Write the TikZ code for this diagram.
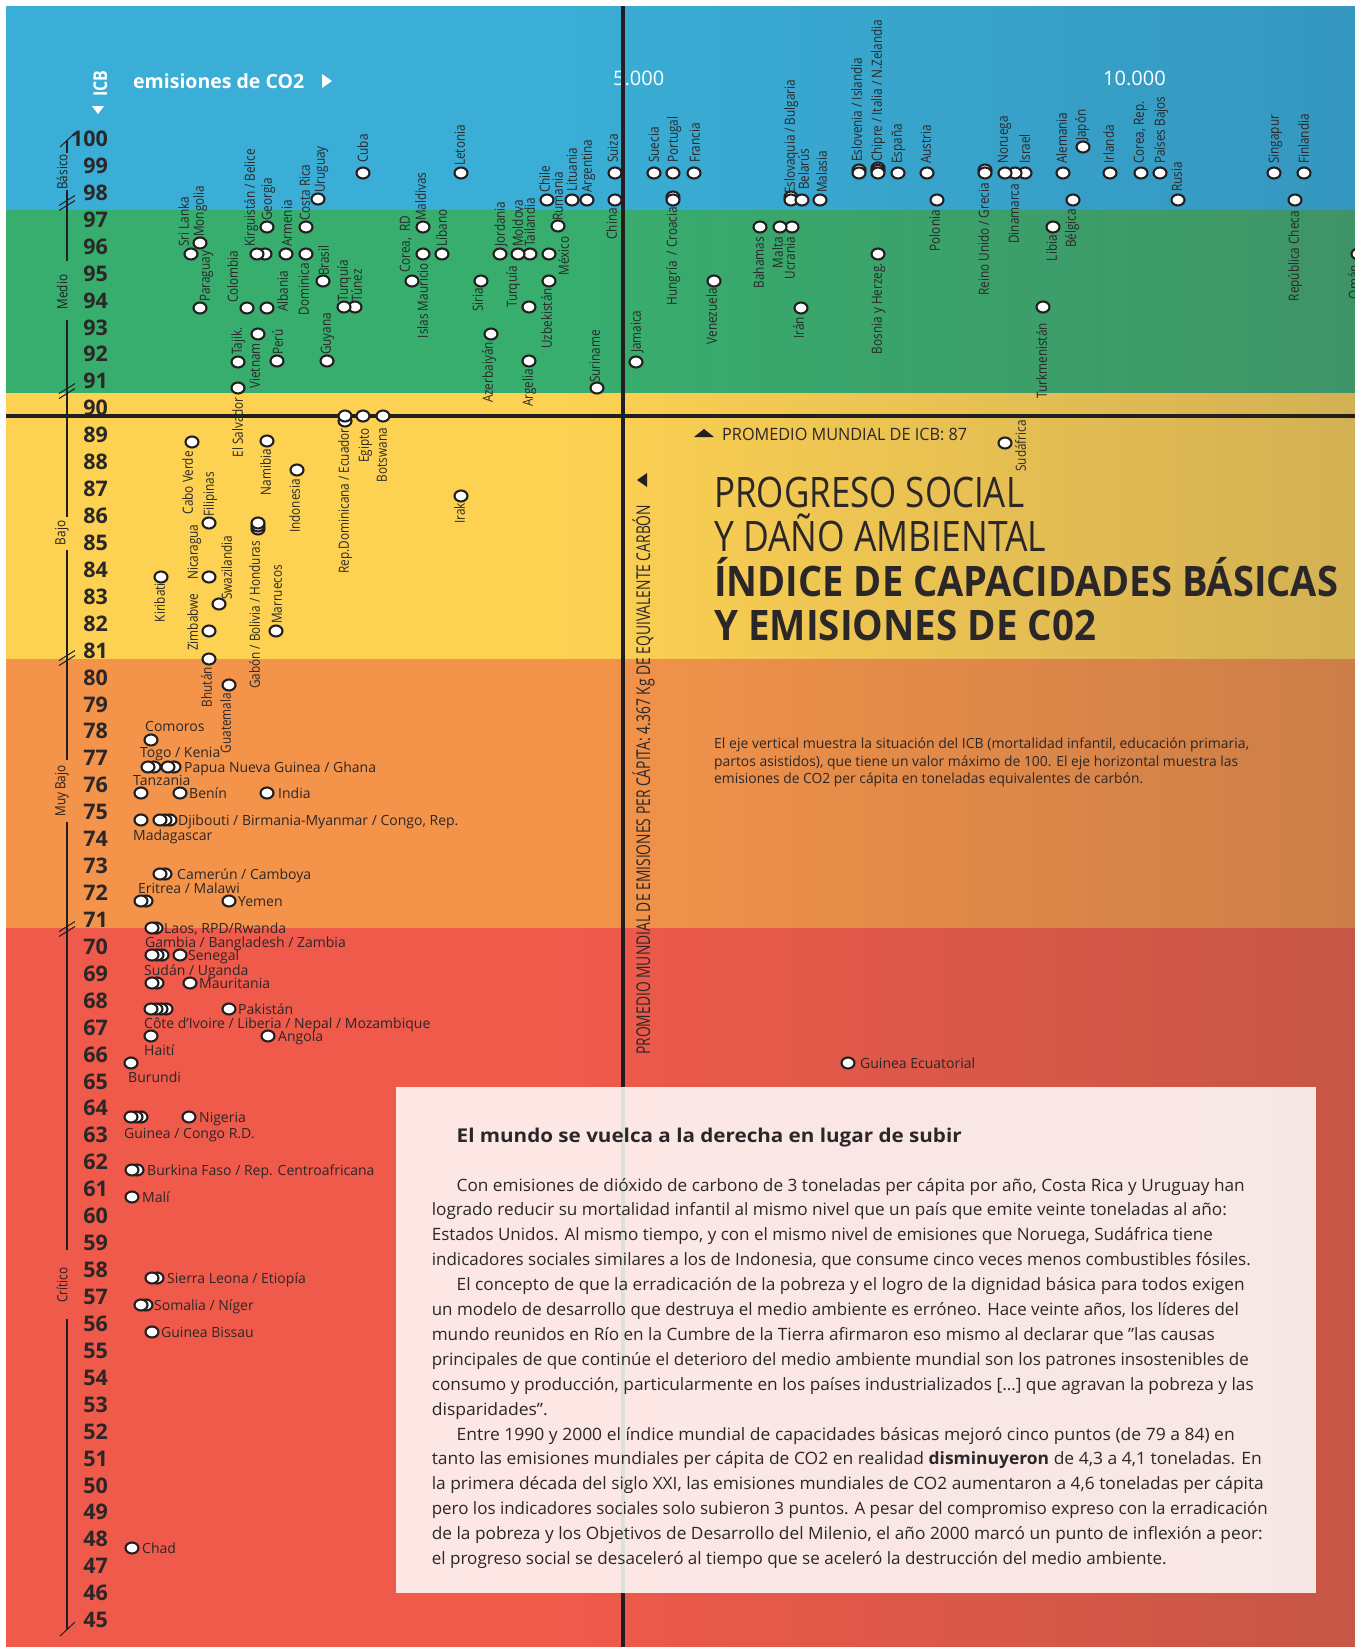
\documentclass[tikz,border=0pt]{standalone}
\usepackage{tikz}
\usepackage{graphicx}
\usepackage{fontspec}
\setmainfont{Open Sans}
\newfontfamily\fa[FakeStretch=0.84]{Open Sans}
\newfontfamily\fb[FakeStretch=0.9]{Open Sans}
\definecolor{ink}{HTML}{231F20}
\definecolor{txt}{HTML}{2B2728}
\definecolor{blueL}{HTML}{3AAED6}\definecolor{blueR}{HTML}{3597BF}
\definecolor{greenL}{HTML}{37AE6E}\definecolor{greenR}{HTML}{3F9467}
\definecolor{yelL}{HTML}{FDD152}\definecolor{yelR}{HTML}{D3B053}
\definecolor{orL}{HTML}{F4944A}\definecolor{orR}{HTML}{CC7E48}
\definecolor{redL}{HTML}{EF5A4B}\definecolor{redR}{HTML}{C65646}
\newsavebox\fitbox
\newdimen\fitlen
\newcommand\fitw[2]{\sbox\fitbox{#2}\fitlen=\wd\fitbox\pgfmathsetmacro\fitfac{#1/\fitlen}\scalebox{\fitfac}[1]{\usebox\fitbox}}
\newcounter{lab}
\newcommand\pnt[2]{\draw[dotst] (#1,#2) ellipse [x radius=6.5pt, y radius=5.5pt];}
\newcommand\lu[3]{\stepcounter{lab}\node[rlab,anchor=west] (L\arabic{lab}) at (#1,#2) {#3};}
\newcommand\ld[3]{\stepcounter{lab}\node[rlab,anchor=east] (L\arabic{lab}) at (#1,#2) {#3};}
\newcommand\lc[3]{\stepcounter{lab}\node[rlab,anchor=center] (L\arabic{lab}) at (#1,#2) {#3};}
\newcommand\lh[3]{\stepcounter{lab}\node[hlab] (L\arabic{lab}) at (#1,#2) {#3};}
\newcommand\bl[4]{\stepcounter{lab}\node[body] (L\arabic{lab}) at (#1,#2) {\fitw{#3}{#4}};}
\newcommand\band[4]{\fill[#1] (6,#3) rectangle (560,#4); \shade[left color=#1,right color=#2] (559.5,#3) rectangle (1355,#4);}
\begin{document}
\begin{tikzpicture}[x=1pt,y=-1pt,
  dotst/.style={draw=ink, fill=white, line width=2.1pt},
  rlab/.style={rotate=90, inner sep=0pt, font=\fa\fontsize{14}{16}\selectfont, text=txt, text height=10.5pt, text depth=3pt},
  hlab/.style={inner sep=0pt, font=\fontsize{14}{16}\selectfont, text=txt, anchor=base west},
  num/.style={inner sep=0pt, font=\bfseries\fontsize{21.5}{24}\selectfont, text=txt, anchor=base east},
  cat/.style={rotate=90, inner sep=0pt, font=\fa\fontsize{14}{16}\selectfont, text=ink},
  body/.style={inner sep=0pt, anchor=base west, font=\fontsize{17}{20}\selectfont, text=txt},
  blk/.style={draw=ink, line width=4pt},
]
\useasboundingbox (0,0) rectangle (1355,1647);
\clip (0,0) rectangle (1355,1647);
% bands
\band{blueL}{blueR}{6}{210}
\band{greenL}{greenR}{210}{393}
\band{yelL}{yelR}{393}{659}
\band{orL}{orR}{659}{928}
\band{redL}{redR}{928}{1647}
% x axis marks
\node[inner sep=0pt,anchor=base west,text=white,font=\fontsize{20}{22}\selectfont] (x5) at (613,85) {5.000};
\node[inner sep=0pt,anchor=base west,text=white,font=\fontsize{20}{22}\selectfont] (x10) at (1103,85) {10.000};
% black average lines
\draw[blk] (6,416) -- (1355,416);
\draw[blk] (623,6) -- (623,1647);
% text box
\fill[white, fill opacity=0.86] (395.5,1087) rectangle (1316,1593);
% header
\node[inner sep=0pt,anchor=base west,text=white,font=\bfseries\fontsize{19.5}{22}\selectfont] (emi) at (133,88) {emisiones de CO2};
\fill[white] (322,74) -- (332,81) -- (322,88) -- cycle;
\node[inner sep=0pt,anchor=base west,rotate=90,text=white,font=\fa\bfseries\fontsize{19}{22}\selectfont] (icb) at (107,97) {ICB};
\fill[white] (92,106) -- (104,106) -- (98,114) -- cycle;
% vertical axis
\draw[ink,line width=1.2pt] (67,140)--(67,153) (67,190)--(67,261) (67,320)--(67,517) (67,550)--(67,760) (67,822)--(67,1250) (67,1319)--(67,1630);
\draw[ink,line width=1pt] (60,147)--(75,133) (60,1636)--(75,1622);
\foreach \c in {203,391,658,929}{
  \draw[ink,line width=1pt] (59,\c+2.5)--(75,\c-7.5) (59,\c+7.5)--(75,\c-2.5);}
\node[cat] (cB) at (62,172) {Básico};
\node[cat] (cM) at (62,292) {Medio};
\node[cat] (cBa) at (62,533) {Bajo};
\node[cat] (cMB) at (62,791) {Muy Bajo};
\node[cat] (cC) at (62,1285) {Crítico};
\foreach \v in {45,...,100}{
  \pgfmathsetmacro\yy{139+(100-\v)*26.93+7.5}
  \node[num] (n\v) at (108,\yy) {\v};}
% ---------- points: upper part ----------
\pnt{191}{254}\pnt{200}{243}\pnt{200}{308}
\pnt{265}{254}\pnt{257}{254}
\pnt{267}{227}\pnt{247}{308}\pnt{267}{308}\pnt{286}{254}
\pnt{306}{227}\pnt{306}{254}\pnt{318}{199}\pnt{323}{281}
\pnt{238}{362}\pnt{258}{334}\pnt{277}{361}\pnt{327}{361}\pnt{238}{388}
\pnt{355}{307}\pnt{344}{307}
\pnt{363}{173}\pnt{412}{281}\pnt{423}{254}\pnt{423}{227}\pnt{442}{254}
\pnt{461}{173}\pnt{481}{281}\pnt{491}{334}
\pnt{500}{254}\pnt{530}{254}\pnt{518}{254}
\pnt{529}{307}\pnt{529}{361}\pnt{547}{200}\pnt{558}{226}\pnt{549}{281}\pnt{549}{254}
\pnt{572}{200}\pnt{587}{200}\pnt{597}{388}\pnt{615}{173}\pnt{615}{200}\pnt{636}{362}
\pnt{654}{173}\pnt{673}{173}\pnt{673}{197}\pnt{673}{200}\pnt{694}{173}\pnt{714}{281}
\pnt{760}{227}\pnt{792}{227}\pnt{780}{227}
\pnt{791}{197}\pnt{791}{200}\pnt{802}{200}\pnt{820}{200}\pnt{801}{308}
\pnt{859}{170}\pnt{859}{173}
\pnt{878}{168}\pnt{878}{170.5}\pnt{878}{173}
\pnt{898}{173}\pnt{878}{254}\pnt{927}{173}\pnt{937}{200}
\pnt{985}{170}\pnt{985}{173}
\pnt{1025}{173}\pnt{1015}{173}\pnt{1005}{173}
\pnt{1053}{227}\pnt{1043}{307}\pnt{1063}{173}\pnt{1073}{200}\pnt{1083}{147}
\pnt{1110}{173}\pnt{1141}{173}\pnt{1160}{173}\pnt{1178}{200}
\pnt{1274}{173}\pnt{1304}{173}\pnt{1295}{200}\pnt{1358}{254}
% ---------- points: lower part ----------
\pnt{192}{442}\pnt{209}{523}\pnt{267}{441}\pnt{297}{470}
\pnt{258}{529}\pnt{258}{526}\pnt{258}{523}
\pnt{209}{577}\pnt{161}{577}\pnt{219}{604}\pnt{209}{631}\pnt{276}{631}
\pnt{209}{659}\pnt{229}{685}
\pnt{345}{421}\pnt{345}{416}\pnt{363}{416}\pnt{383}{416}
\pnt{461}{496}\pnt{1005}{443}\pnt{848}{1063}
\pnt{151}{740}
\pnt{154}{767}\pnt{148}{767}\pnt{174}{767}\pnt{168}{767}
\pnt{141}{793}\pnt{180}{793}\pnt{267}{793}
\pnt{141}{820}\pnt{170}{820}\pnt{165}{820}\pnt{160}{820}
\pnt{165}{874}\pnt{160}{874}
\pnt{146}{901}\pnt{141}{901}\pnt{229}{901}
\pnt{156}{928}\pnt{152}{928}
\pnt{162}{955}\pnt{157}{955}\pnt{152}{955}\pnt{180}{955}
\pnt{157}{983}\pnt{152}{983}\pnt{190}{983}
\pnt{166}{1009}\pnt{161}{1009}\pnt{156}{1009}\pnt{151}{1009}\pnt{229}{1009}
\pnt{151}{1036}\pnt{268}{1036}
\pnt{131}{1063}
\pnt{141}{1117}\pnt{136}{1117}\pnt{131}{1117}\pnt{189}{1117}
\pnt{137}{1170}\pnt{132}{1170}
\pnt{132}{1197}
\pnt{157}{1278}\pnt{152}{1278}
\pnt{146}{1305}\pnt{141}{1305}
\pnt{152}{1332}
\pnt{132}{1548}
% ---------- rotated labels ----------
\lu{185}{247}{Sri Lanka}
\lu{200}{237}{Mongolia}
\lu{206}{302}{Paraguay}
\lu{234}{303}{Colombia}
\lu{284}{312}{Albania}
\lu{238}{355}{Tajik.}
\lu{279}{355}{Perú}
\lu{251}{247}{Kirguistán / Belice}
\lu{268}{221}{Georgia}
\lu{288}{247}{Armenia}
\lu{306}{221}{Costa Rica}
\lu{321}{193}{Uruguay}
\lu{325}{276}{Brasil}
\lu{327}{355}{Guyana}
\lu{344}{302}{Turquía}
\lu{358}{302}{Túnez}
\lu{364}{163}{Cuba}
\lu{406}{273}{Corea,\ \ RD}
\lu{422}{221}{Maldivas}
\lu{443}{247}{Líbano}
\lu{461}{166}{Letonia}
\lu{501}{247}{Jordania}
\lu{519}{247}{Moldova}
\lu{531}{247}{Tailandia}
\lu{513}{308}{Turquía}
\lu{546}{193}{Chile}
\lu{559}{221}{Rumania}
\lu{573}{192}{Lituania}
\lu{588}{193}{Argentina}
\lu{596}{383}{Suriname}
\lu{614}{163}{Suiza}
\lu{637}{353}{Jamaica}
\lu{655}{163}{Suecia}
\lu{674}{163}{Portugal}
\lu{696}{163}{Francia}
\lu{791}{194}{Eslovaquia / Bulgaria}
\lu{805}{190}{Belarús}
\lu{823}{193}{Malasia}
\lu{858}{162}{Eslovenia / Islandia}
\lu{878}{162}{Chipre / Italia / N.Zelandia}
\lu{898}{164}{España}
\lu{927}{164}{Austria}
\lu{1004}{164}{Noruega}
\lu{1026}{164}{Israel}
\lu{1063}{164}{Alemania}
\lu{1082}{141}{Japón}
\lu{1110}{164}{Irlanda}
\lu{1140}{164}{Corea, Rep.}
\lu{1161}{164}{Países Bajos}
\lu{1178}{192}{Rusia}
\lu{1275}{164}{Singapur}
\lu{1305}{164}{Finlandia}
\lu{210}{517}{Filipinas}
\lu{194}{580}{Nicaragua}
\lu{228}{600}{Swazilandia}
\lu{194}{651}{Zimbabwe}
\lu{278}{624}{Marruecos}
\ld{305}{263}{Dominica}
\ld{256}{343}{Vietnam}
\ld{239}{397}{El Salvador}
\ld{424}{263}{Islas Mauricio}
\ld{479}{288}{Siria}
\ld{489}{342}{Azerbaiyán}
\ld{529}{369}{Argelia}
\ld{548}{288}{Uzbekistán}
\ld{613}{208}{China}
\ld{673}{207}{Hungría\ \ / Croacia}
\ld{713}{288}{Venezuela}
\ld{760}{237}{Bahamas}
\ld{779}{237}{Malta}
\ld{791}{237}{Ucrania}
\ld{800}{317}{Irán}
\ld{878}{263}{Bosnia y Herzeg.}
\ld{936}{210}{Polonia}
\ld{985}{183}{Reino Unido / Grecia}
\ld{1015}{184}{Dinamarca}
\ld{1053}{235}{Libia}
\ld{1043}{323}{Turkmenistán}
\ld{1072}{209}{Bélgica}
\ld{1295}{211}{República Checa}
\ld{1355}{265}{Omán}
\ld{189}{451}{Cabo Verde}
\ld{267}{449}{Namibia}
\ld{296}{479}{Indonesia}
\ld{256}{541}{Gabón / Bolivia / Honduras}
\ld{161}{583}{Kiribati}
\ld{208}{667}{Bhután}
\ld{227}{693}{Guatemala}
\ld{345}{428}{Rep.Dominicana / Ecuador}
\ld{365}{428}{Egipto}
\ld{383}{428}{Botswana}
\ld{461}{503}{Irak}
\lc{565}{256}{México}
\lc{1022}{446}{Sudáfrica}
% ---------- horizontal labels ----------
\lh{145}{731}{Comoros}
\lh{140}{757}{Togo / Kenia}
\lh{184}{772}{Papua Nueva Guinea / Ghana}
\lh{133}{785}{Tanzania}
\lh{189}{798}{Benín}
\lh{278}{798}{India}
\lh{178}{825}{Djibouti / Birmania-Myanmar / Congo, Rep.}
\lh{133}{840}{Madagascar}
\lh{177}{879}{Camerún / Camboya}
\lh{138}{893}{Eritrea / Malawi}
\lh{238}{906}{Yemen}
\lh{164}{933}{Laos, RPD/Rwanda}
\lh{145}{947}{Gambia / Bangladesh / Zambia}
\lh{188}{960}{Senegal}
\lh{144}{975}{Sudán / Uganda}
\lh{199}{988}{Mauritania}
\lh{238}{1014}{Pakistán}
\lh{144}{1028}{Côte d'Ivoire / Liberia / Nepal / Mozambique}
\lh{278}{1041}{Angola}
\lh{144}{1055}{Haití}
\lh{128}{1082}{Burundi}
\lh{199}{1122}{Nigeria}
\lh{124}{1138}{Guinea / Congo R.D.}
\lh{147}{1175}{Burkina Faso / Rep. Centroafricana}
\lh{142}{1202}{Malí}
\lh{167}{1283}{Sierra Leona / Etiopía}
\lh{154}{1310}{Somalia / Níger}
\lh{161}{1337}{Guinea Bissau}
\lh{142}{1553}{Chad}
\lh{860}{1068}{Guinea Ecuatorial}
% ---------- averages ----------
\fill[ink] (694,437) -- (714,437) -- (704,429) -- cycle;
\node[inner sep=0pt,anchor=base west,text=txt,font=\fontsize{17}{20}\selectfont] (avgicb) at (722,440) {\fitw{245}{PROMEDIO MUNDIAL DE ICB: 87}};
\fill[ink] (637,480) -- (647,473) -- (647,487) -- cycle;
\node[inner sep=0pt,anchor=base west,rotate=90,text=txt,font=\fontsize{19}{22}\selectfont] (avgco) at (650,1055) {\fitw{550}{PROMEDIO MUNDIAL DE EMISIONES PER CÁPITA: 4.367 Kg DE EQUIVALENTE CARBÓN}};
% ---------- title ----------
\node[inner sep=0pt,anchor=base west,text=txt,font=\fontsize{42}{46}\selectfont] (t1) at (714,507) {\fitw{310}{PROGRESO SOCIAL}};
\node[inner sep=0pt,anchor=base west,text=txt,font=\fontsize{42}{46}\selectfont] (t2) at (714,551) {\fitw{332}{Y DAÑO AMBIENTAL}};
\node[inner sep=0pt,anchor=base west,text=txt,font=\bfseries\fontsize{42}{46}\selectfont] (t3) at (714,596) {\fitw{624}{ÍNDICE DE CAPACIDADES BÁSICAS}};
\node[inner sep=0pt,anchor=base west,text=txt,font=\bfseries\fontsize{42}{46}\selectfont] (t4) at (714,640) {\fitw{382}{Y EMISIONES DE C02}};
\node[inner sep=0pt,anchor=base west,text=txt,font=\fontsize{14}{16}\selectfont] (d1) at (714,748) {\fitw{535}{El eje vertical muestra la situación del ICB (mortalidad infantil, educación primaria,}};
\node[inner sep=0pt,anchor=base west,text=txt,font=\fontsize{14}{16}\selectfont] (d2) at (714,766) {\fitw{524}{partos asistidos), que tiene un valor máximo de 100. El eje horizontal muestra las}};
\node[inner sep=0pt,anchor=base west,text=txt,font=\fontsize{14}{16}\selectfont] (d3) at (714,783) {\fitw{429}{emisiones de CO2 per cápita en toneladas equivalentes de carbón.}};
% ---------- box text ----------
\node[inner sep=0pt,anchor=base west,text=txt,font=\bfseries\fontsize{19}{22}\selectfont] (bt) at (456.5,1142) {\fitw{505}{El mundo se vuelca a la derecha en lugar de subir}};
\bl{456.5}{1191}{788}{Con emisiones de dióxido de carbono de 3 toneladas per cápita por año, Costa Rica y Uruguay han}
\bl{431.6}{1215.9}{795}{logrado reducir su mortalidad infantil al mismo nivel que un país que emite veinte toneladas al año:}
\bl{431.6}{1240.8}{781}{Estados Unidos. Al mismo tiempo, y con el mismo nivel de emisiones que Noruega, Sudáfrica tiene}
\bl{431.6}{1265.7}{819}{indicadores sociales similares a los de Indonesia, que consume cinco veces menos combustibles fósiles.}
\bl{456.5}{1290.6}{788}{El concepto de que la erradicación de la pobreza y el logro de la dignidad básica para todos exigen}
\bl{431.6}{1315.5}{807}{un modelo de desarrollo que destruya el medio ambiente es erróneo. Hace veinte años, los líderes del}
\bl{431.6}{1340.4}{783}{mundo reunidos en Río en la Cumbre de la Tierra afirmaron eso mismo al declarar que ”las causas}
\bl{431.6}{1365.3}{817}{principales de que continúe el deterioro del medio ambiente mundial son los patrones insostenibles de}
\bl{431.6}{1390.2}{822}{consumo y producción, particularmente en los países industrializados […] que agravan la pobreza y las}
\bl{431.6}{1415.1}{116}{disparidades”.}
\bl{456.5}{1440}{778}{Entre 1990 y 2000 el índice mundial de capacidades básicas mejoró cinco puntos (de 79 a 84) en}
\bl{431.6}{1464.9}{830}{tanto las emisiones mundiales per cápita de CO2 en realidad \textbf{disminuyeron} de 4,3 a 4,1 toneladas. En}
\bl{431.6}{1489.8}{832}{la primera década del siglo XXI, las emisiones mundiales de CO2 aumentaron a 4,6 toneladas per cápita}
\bl{431.6}{1514.7}{836}{pero los indicadores sociales solo subieron 3 puntos. A pesar del compromiso expreso con la erradicación}
\bl{431.6}{1539.6}{831}{de la pobreza y los Objetivos de Desarrollo del Milenio, el año 2000 marcó un punto de inflexión a peor:}
\bl{431.6}{1564.5}{735}{el progreso social se desaceleró al tiempo que se aceleró la destrucción del medio ambiente.}
\end{tikzpicture}
\end{document}
